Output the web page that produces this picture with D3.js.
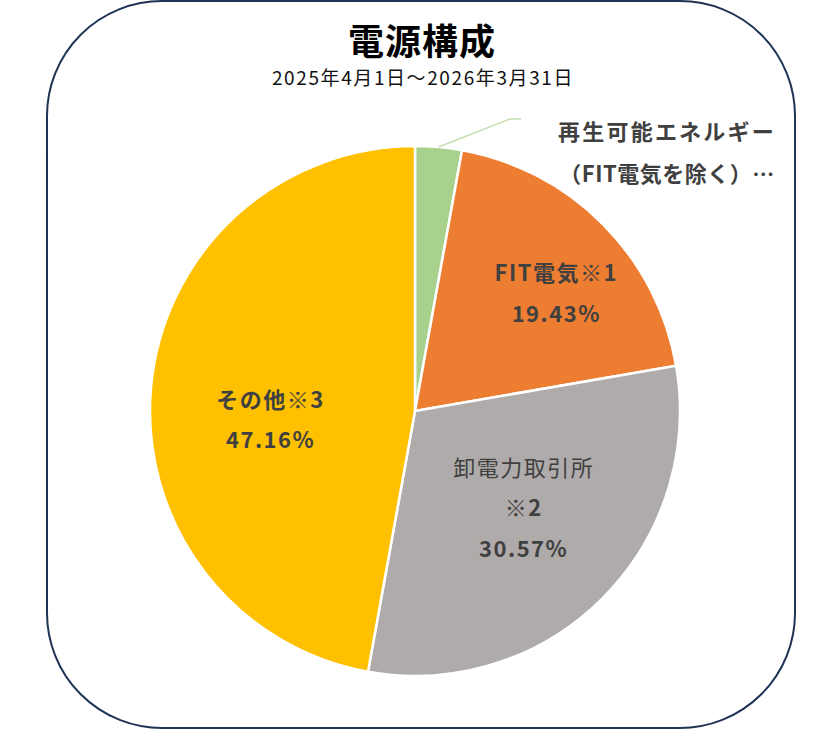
<!DOCTYPE html>
<html>
<head>
<meta charset="utf-8">
<script src="https://cdn.jsdelivr.net/npm/d3@7"></script>
<style>
  body { margin: 0; background: #fff; }
  svg { display: block; font-family: "Noto Sans CJK JP", "Noto Sans", sans-serif; }
</style>
</head>
<body>
<div id="chart"></div>
<script>
// données du graphique
const categories = ["再生可能エネルギー（FIT電気を除く）", "FIT電気※1", "卸電力取引所※2", "その他※3"];
const values = [2.84, 19.43, 30.57, 47.16];
const colors = ["#A9D18E", "#ED7D31", "#AFABAB", "#FFC000"];
const title = "電源構成";
const subtitle = "2025年4月1日～2026年3月31日";

const width = 829, height = 742;
const cx = 415, cy = 411, radius = 265;

const svg = d3.select("#chart").append("svg")
  .attr("width", width)
  .attr("height", height);

// cadre arrondi
svg.append("rect")
  .attr("x", 47).attr("y", 1)
  .attr("width", 748).attr("height", 727)
  .attr("rx", 115).attr("ry", 115)
  .attr("fill", "#fff")
  .attr("stroke", "#1F3356")
  .attr("stroke-width", 2);

// titre
svg.append("text")
  .attr("x", 422).attr("y", 39)
  .attr("text-anchor", "middle")
  .attr("dominant-baseline", "central")
  .attr("font-size", 36).attr("font-weight", "bold")
  .attr("letter-spacing", 1)
  .attr("fill", "#000")
  .text(title);

svg.append("text")
  .attr("x", 423).attr("y", 76)
  .attr("text-anchor", "middle")
  .attr("dominant-baseline", "central")
  .attr("font-size", 19)
  .attr("letter-spacing", 1.6)
  .attr("fill", "#111")
  .text(subtitle);

// camembert
const pie = d3.pie().sort(null).value(d => d);
const arcs = pie(values);
const arc = d3.arc().innerRadius(0).outerRadius(radius);

const g = svg.append("g").attr("transform", `translate(${cx},${cy})`);

g.selectAll("path")
  .data(arcs)
  .enter()
  .append("path")
  .attr("d", arc)
  .attr("fill", (d, i) => colors[i])
  .attr("stroke", "#fff")
  .attr("stroke-width", 2.5)
  .attr("stroke-linejoin", "round");

// étiquettes intérieures
const labelRadius = [0, 185, 140, 145];
const nudge = [[0, 0], [10, 11], [10, -4], [0, 20]];
const lineGap = 40.5;
const fmt = v => v.toFixed(2) + "%";

function splitLabel(name) {
  // découpe du nom en lignes comme dans Excel
  if (name === "卸電力取引所※2") return [[{t: "卸電力取引所", w: "normal"}], [{t: "※", w: "normal"}, {t: "2", w: "bold"}]];
  const k = name.indexOf("※");
  return [[{t: name.slice(0, k) , w: "bold"}, {t: "※", w: "normal"}, {t: name.slice(k + 1), w: "bold"}]];
}

arcs.forEach(function(d, i) {
  if (i === 0) return;
  const la = d3.arc().innerRadius(labelRadius[i]).outerRadius(labelRadius[i]);
  const c = la.centroid(d);
  const x = c[0] + nudge[i][0], y = c[1] + nudge[i][1];
  const lines = splitLabel(categories[i]);
  lines.push([{t: fmt(values[i]), w: "bold"}]);
  const y0 = y - (lines.length - 1) * lineGap / 2;
  lines.forEach(function(parts, j) {
    const t = g.append("text")
      .attr("x", x).attr("y", y0 + j * lineGap)
      .attr("text-anchor", "middle")
      .attr("dominant-baseline", "central")
      .attr("font-size", 22)
      .attr("letter-spacing", 1.5)
      .attr("fill", "#404040");
    parts.forEach(p => t.append("tspan").attr("font-weight", p.w).text(p.t));
  });
});

// étiquette extérieure avec ligne de rappel
const first = arcs[0];
const mid = (first.startAngle + first.endAngle) / 2;
const p0 = [Math.sin(mid) * radius, -Math.cos(mid) * radius];
g.append("polyline")
  .attr("points", [p0, [95, -292], [106, -292]].map(p => p.join(",")).join(" "))
  .attr("fill", "none")
  .attr("stroke", "#C5E0B4")
  .attr("stroke-width", 1.5);

const outer = ["再生可能エネルギー", "（FIT電気を除く）…"];
outer.forEach(function(s, j) {
  g.append("text")
    .attr("x", 252).attr("y", -281 + j * 42)
    .attr("text-anchor", "middle")
    .attr("dominant-baseline", "central")
    .attr("font-size", 22).attr("font-weight", "bold")
    .attr("letter-spacing", j === 0 ? 2.2 : 0.5)
    .attr("fill", "#404040")
    .text(s);
});
</script>
</body>
</html>
